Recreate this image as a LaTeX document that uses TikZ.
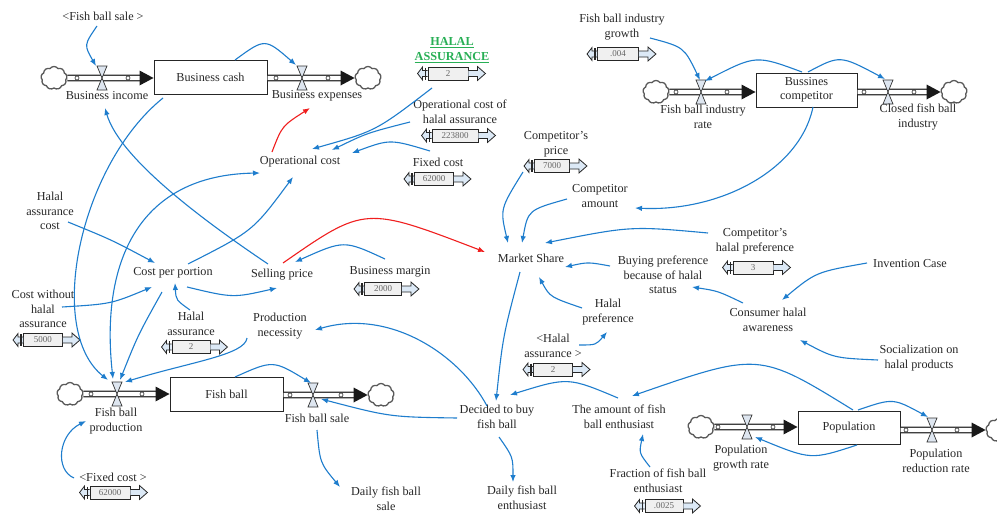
\documentclass[tikz,border=0pt]{standalone}
\usepackage{fontspec}
\setmainfont{Liberation Serif}
\usetikzlibrary{calc,arrows.meta,shapes.symbols}
\definecolor{lnk}{RGB}{30,125,205}
\definecolor{lnkred}{RGB}{240,30,30}
\definecolor{halgreen}{RGB}{40,175,85}
\definecolor{vfill}{RGB}{222,230,240}
\definecolor{afill}{RGB}{220,233,246}
\definecolor{txt}{RGB}{40,40,40}
\newcommand\cbox[5]{%
 \node[cbx, minimum width=#4pt] (#1) at (#2,#3) {#5};
 \draw[afl] (#1.west) +(0,-3) -- +(-5,-3) -- +(-5,-6.5) -- +(-10,0) -- +(-5,6.5) -- +(-5,3) -- +(0,3);
 \draw[line width=1.2pt, black!85] ([xshift=-2pt]#1.west) +(0,-6) -- +(0,6);
 \draw[afl] (#1.east) +(0,-3) -- +(9,-3) -- +(9,-7) -- +(17,0) -- +(9,7) -- +(9,3) -- +(0,3);
}
\newcommand\pipe[2]{%
 \draw[line width=6.8pt, black!85] (#1) -- ($(#2)+(-12,0)$);
 \draw[line width=4.2pt, white] (#1) -- ($(#2)+(-12,0)$);
 \fill[black!90] (#2) -- ++(-14,-7.5) -- ++(0,15) -- cycle;
}
\newcommand\pcirc[2]{\filldraw[fill=white, draw=black!85, line width=0.6pt] (#1,#2) circle[radius=2];}
\begin{document}
\begin{tikzpicture}[x=1pt,y=-1pt,
 lbl/.style={font=\fontsize{12.2}{14.5}\selectfont, align=center, inner sep=1pt, text=txt},
 stock/.style={draw=black!85, line width=1pt, fill=white, font=\fontsize{12.2}{14.5}\selectfont, align=center, text=txt, inner sep=0},
 cloudst/.style={cloud, cloud puffs=9, cloud puff arc=110, draw=black!65, line width=1.3pt, minimum width=26pt, minimum height=23pt, inner sep=0, aspect=1.1},
 conn/.style={draw=lnk, line width=1.1pt, -{Latex[length=7pt,width=5.5pt]}},
 connred/.style={conn, draw=lnkred},
 cbx/.style={draw=black!85, line width=0.9pt, fill=black!6, minimum height=13pt, inner sep=0, font=\fontsize{9}{10}\selectfont, text=black!60},
 afl/.style={fill=afill, draw=black!85, line width=0.8pt},
 valvest/.style={fill=vfill, draw=black!80, line width=0.7pt, line join=miter},
 valve/.pic={\filldraw[valvest] (-5,-12) -- (5,-12) -- (0,0) -- cycle;
             \filldraw[valvest] (0,0) -- (-5,12) -- (5,12) -- cycle;}
]
\useasboundingbox (0,0) rectangle (997,514);
\fill[white] (0,0) rectangle (997,514);

% clouds
\node[cloudst] (c1) at (54,78) {};
\node[cloudst] (c2) at (368,78) {};
\node[cloudst] (c3) at (656,92) {};
\node[cloudst] (c4) at (954,92) {};
\node[cloudst] (c5) at (70,394) {};
\node[cloudst] (c6) at (381,395) {};
\node[cloudst] (c7) at (701,427) {};
\node[cloudst] (c8) at (999,430) {};

% stocks
\node[stock, minimum width=113pt, minimum height=34pt] (bcash) at (210.5,77) {Business cash};
\node[stock, minimum width=101pt, minimum height=34pt] (bc) at (806.5,90) {Bussines\\competitor};
\node[stock, minimum width=113pt, minimum height=34pt] (fb) at (226.5,394) {Fish ball};
\node[stock, minimum width=102pt, minimum height=33pt] (pop) at (849,427.5) {Population};

% pipes
\coordinate (p1s) at (c1.east); \coordinate (p1e) at (bcash.west |- c1);
\coordinate (p2s) at (bcash.east |- c2); \coordinate (p2e) at (c2.west);
\coordinate (p3s) at (c3.east); \coordinate (p3e) at (bc.west |- c3);
\coordinate (p4s) at (bc.east |- c4); \coordinate (p4e) at (c4.west);
\coordinate (p5s) at (c5.east); \coordinate (p5e) at (fb.west |- c5);
\coordinate (p6s) at (fb.east |- c6); \coordinate (p6e) at (c6.west);
\coordinate (p7s) at (c7.east); \coordinate (p7e) at (pop.west |- c7);
\coordinate (p8s) at (pop.east |- c8); \coordinate (p8e) at (c8.west);
\pipe{p1s}{p1e}\pipe{p2s}{p2e}\pipe{p3s}{p3e}\pipe{p4s}{p4e}
\pipe{p5s}{p5e}\pipe{p6s}{p6e}\pipe{p7s}{p7e}\pipe{p8s}{p8e}
\pcirc{77}{78}\pcirc{128}{78}\pcirc{276}{78}\pcirc{328}{78}
\pcirc{676}{92}\pcirc{727}{92}\pcirc{864}{92}\pcirc{914}{92}
\pcirc{91}{394}\pcirc{142}{394}\pcirc{290}{395}\pcirc{341}{395}
\pcirc{718}{427}\pcirc{773}{427}\pcirc{906}{430}\pcirc{957}{430}

% valves
\coordinate (vbi) at (102,78);
\coordinate (vbe) at (302,78);
\coordinate (vfir) at (701,92);
\coordinate (vcfi) at (888,92);
\coordinate (vfbp) at (117,394);
\coordinate (vfbs) at (313,395);
\coordinate (vpgr) at (747,427);
\coordinate (vprr) at (932,430);
\foreach \v in {vbi,vbe,vfir,vcfi,vfbp,vfbs,vpgr,vprr} {\pic at (\v) {valve};}

% labels
\node[lbl] (fbsaleS) at (103,16) {<Fish ball sale >};
\node[lbl] (bincome) at (107,96) {Business income};
\node[lbl] (bexp) at (317,96) {Business expenses};
\node[lbl, text=halgreen, font=\bfseries\fontsize{12.2}{14.5}\selectfont] (halal) at (452,50) {\underline{HALAL}\\\underline{ASSURANCE}};
\node[lbl] (ocha) at (460,112) {Operational cost of\\halal assurance};
\node[lbl] (fixc) at (438,162) {Fixed cost};
\node[lbl] (cprice) at (556,144) {Competitor's\\price};
\node[lbl] (camount) at (600,196) {Competitor\\amount};
\node[lbl] (opc) at (300,162) {Operational cost};
\node[lbl] (hac) at (50,211) {Halal\\assurance\\cost};
\node[lbl] (cpp) at (173,273) {Cost per portion};
\node[lbl] (sp) at (282,275) {Selling price};
\node[lbl] (bm) at (390,272) {Business margin};
\node[lbl] (cwha) at (43,309) {Cost without\\halal\\assurance};
\node[lbl] (ha) at (191,324) {Halal\\assurance};
\node[lbl] (pn) at (280,326) {Production\\necessity};
\node[lbl] (ms) at (531,258) {Market Share};
\node[lbl] (bp) at (663,275) {Buying preference\\because of halal\\status};
\node[lbl] (chp) at (755,241) {Competitor's\\halal preference};
\node[lbl] (ic) at (910,264) {Invention Case};
\node[lbl] (cha) at (768,320) {Consumer halal\\awareness};
\node[lbl] (soc) at (919,358) {Socialization on\\halal products};
\node[lbl] (hp) at (608,312) {Halal\\preference};
\node[lbl] (has) at (553,346) {<Halal\\assurance >};
\node[lbl] (fbp) at (116,421) {Fish ball\\production};
\node[lbl] (fbs) at (317,418) {Fish ball sale};
\node[lbl] (fcs) at (113,477) {<Fixed cost >};
\node[lbl] (dfbs) at (386,499) {Daily fish ball\\sale};
\node[lbl] (dtb) at (497,417) {Decided to buy\\fish ball};
\node[lbl] (afe) at (619,417) {The amount of fish\\ball enthusiast};
\node[lbl] (dfbe) at (522,498) {Daily fish ball\\enthusiast};
\node[lbl] (ffe) at (658,481) {Fraction of fish ball\\enthusiast};
\node[lbl] (pgr) at (741,458) {Population\\growth rate};
\node[lbl] (prr) at (936,461) {Population\\reduction rate};
\node[lbl] (fir) at (703,117) {Fish ball industry\\rate};
\node[lbl] (cfi) at (918,117) {Closed fish ball\\industry};
\node[lbl] (fig) at (622,27) {Fish ball industry\\growth};

% constants
\cbox{kHA}{448}{73.5}{40}{2}
\cbox{kOCHA}{455}{135.5}{46}{223800}
\cbox{kFC}{434}{179}{39}{62000}
\cbox{kCP}{552}{166}{35}{7000}
\cbox{kFIG}{618}{54}{41}{.004}
\cbox{kBM}{383}{289}{37}{2000}
\cbox{kCHP}{753}{267.5}{40}{3}
\cbox{kCW}{43}{340}{39}{5000}
\cbox{kHAL}{191}{347}{38}{2}
\cbox{kHAS}{553}{369.5}{39}{2}
\cbox{kFCS}{110}{492.5}{40}{62000}
\cbox{kFFE}{664}{506}{38}{.0025}

% connectors
\draw[conn] ($(fbsaleS)+(-6,10)$) .. controls (84,45) .. ($(vbi)+(-6,-12)$);
\draw[conn] ($(bcash)+(24.5,-17)$) .. controls (265,38) .. ($(vbe)+(-6,-13)$);
\draw[conn] ($(bcash)+(-47.5,21)$) .. controls (80,165) and (45,330) .. ($(vfbp)+(-9,-14)$);
\draw[conn, {Latex[length=7pt,width=5.5pt]}-{Latex[length=7pt,width=5.5pt]}] ($(vfbp)+(-4,-15)$) .. controls (100,260) and (140,175) .. ($(opc)+(-40,11)$);
\draw[conn] ($(cpp)+(-11,19)$) .. controls (138,335) .. ($(vfbp)+(3,-14)$);
\draw[conn] ($(pn)+(-33,12)$) .. controls (245,355) and (190,362) .. ($(vfbp)+(8,-12)$);
\draw[conn] ($(fcs)+(-39,1)$) .. controls (55,470) and (58,435) .. ($(fbp)+(-30,0)$);
\draw[conn] ($(fb)+(8.5,-17)$) .. controls (273,360) .. ($(vfbs)+(-2,-12)$);
\draw[conn] ($(dtb)+(-40,1)$) .. controls (390,417) .. ($(vfbs)+(8,4)$);
\draw[conn] ($(fbs)+(0,12)$) .. controls (320,463) .. ($(dfbs)+(-46,-12)$);
\draw[conn] ($(dtb)+(-10,-11)$) .. controls (460,355) and (390,308) .. ($(pn)+(35,4)$);
\draw[conn] ($(ms)+(-11,14)$) .. controls (503,336) .. ($(dtb)+(-1,-16)$);
\draw[conn] ($(afe)+(-1,-19)$) .. controls (568,377) .. ($(dtb)+(13,-22)$);
\draw[conn] ($(pop)+(4,-17.5)$) .. controls (759,352) .. ($(afe)+(13,-21)$);
\draw[conn] ($(ffe)+(-8,-14)$) .. controls (639,453) .. ($(afe)+(24,17)$);
\draw[conn] ($(pop)+(9,-17.5)$) .. controls (893,398) .. ($(vprr)+(-4,-13)$);
\draw[conn] ($(pop)+(8,17.5)$) .. controls (811,460) .. ($(vpgr)+(8,10)$);
\draw[conn] ($(dtb)+(2,20)$) .. controls (513,457) .. ($(dfbe)+(-9,-16)$);
\draw[conn] ($(hp)+(-26,-4)$) .. controls (550,297) .. ($(ms)+(8,19)$);
\draw[conn] ($(has)+(26,-1)$) .. controls (596,345) .. ($(hp)+(-1,20)$);
\draw[conn] ($(bp)+(-53,-9)$) .. controls (588,262) .. ($(ms)+(34,9)$);
\draw[conn] ($(chp)+(-47,-8)$) .. controls (631,226) .. ($(ms)+(14,-15)$);
\draw[conn] ($(camount)+(-33,3)$) .. controls (528,210) .. ($(ms)+(-9,-15)$);
\draw[conn] ($(kCP)+(-29,6)$) .. controls (500,209) .. ($(ms)+(-23,-15)$);
\draw[conn] ($(bc)+(6.5,17)$) .. controls (800,170) and (720,212) .. ($(camount)+(35,12)$);
\draw[conn] ($(cha)+(-25,-17)$) .. controls (718,291) .. ($(bp)+(29,12)$);
\draw[conn] ($(ic)+(-43,-1)$) .. controls (816,272) .. ($(cha)+(14,-20)$);
\draw[conn] ($(soc)+(-41,2)$) .. controls (834,358) .. ($(cha)+(32,20)$);
\draw[connred] ($(sp)+(1,-12)$) .. controls (365,206) .. ($(ms)+(-46,-6)$);
\draw[conn] ($(bm)+(-5,-13)$) .. controls (344,240) .. ($(sp)+(13,-13)$);
\draw[conn] ($(sp)+(-14,-11)$) .. controls (210,225) and (120,160) .. ($(bincome)+(-2,12)$);
\draw[conn] ($(cpp)+(15,-9)$) .. controls (253,231) .. ($(opc)+(-7,15)$);
\draw[conn] ($(cpp)+(14,14)$) .. controls (233,298) .. ($(sp)+(-5,13)$);
\draw[conn] ($(hac)+(18,11)$) .. controls (112,240) .. ($(cpp)+(-18,-10)$);
\draw[conn] ($(cwha)+(19,-2)$) .. controls (111,304) .. ($(cpp)+(-21,14)$);
\draw[conn] ($(ha)+(-1,-14)$) .. controls (176,300) .. ($(cpp)+(2,10)$);
\draw[connred] ($(opc)+(-28,-10)$) .. controls (282,126) .. ($(bexp)+(-7,12)$);
\draw[conn] ($(kHA)+(-16,14.5)$) .. controls (376,131) .. ($(opc)+(12,-13)$);
\draw[conn] ($(ocha)+(-50,10)$) .. controls (367,133) .. ($(opc)+(32,-12)$);
\draw[conn] ($(fixc)+(-8,-11)$) .. controls (390,139) .. ($(opc)+(52,-9)$);
\draw[conn] ($(fig)+(28,11)$) .. controls (684,47) .. ($(vfir)+(-1,-12)$);
\draw[conn] ($(bc)+(-4.5,-18)$) .. controls (756,55) .. ($(vfir)+(4,-11)$);
\draw[conn] ($(bc)+(1.5,-18)$) .. controls (840,55) .. ($(vcfi)+(-3,-13)$);
\end{tikzpicture}
\end{document}
